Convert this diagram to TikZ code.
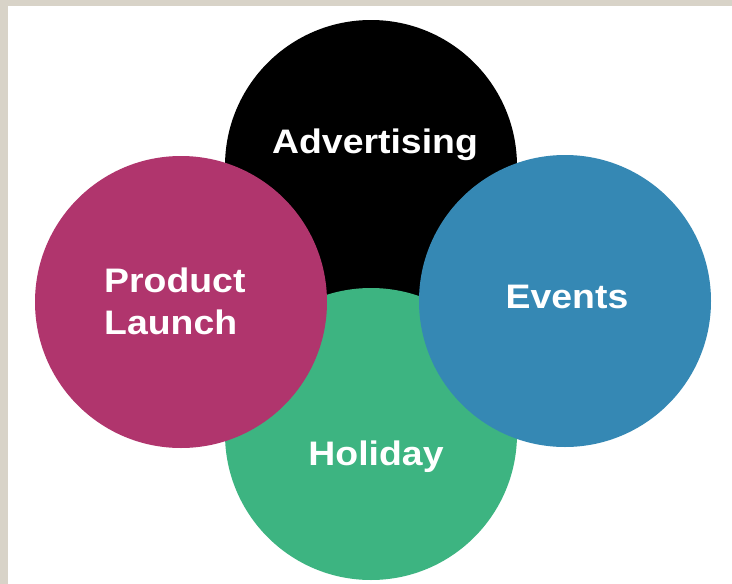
\documentclass[tikz,border=0pt]{standalone}
\usepackage{fontspec}
\newfontfamily\labelfont{Liberation Sans}[FakeStretch=1.1]
\definecolor{advblack}{HTML}{000000}
\definecolor{prodpink}{HTML}{B0356D}
\definecolor{holgreen}{HTML}{3DB481}
\definecolor{evtblue}{HTML}{3588B4}
\definecolor{frame}{HTML}{D8D3C8}
\begin{document}
\begin{tikzpicture}[x=1pt,y=-1pt,
  bubble/.style={circle, inner sep=0pt, minimum size=292pt, draw=none},
  caption/.style={text=white, inner sep=0pt, font=\labelfont\bfseries\fontsize{34}{42}\selectfont}]
  \useasboundingbox (0,0) rectangle (732,584);
  \fill[white] (0,0) rectangle (732,584);
  % beige frame along the left and top edges
  \fill[frame] (0,0) rectangle (8,584);
  \fill[frame] (0,0) rectangle (732,6);
  % the four overlapping circles, back to front
  \node[bubble, fill=advblack] (adv) at (371,166) {};
  \node[bubble, fill=holgreen] (hol) at (371,434) {};
  \node[bubble, fill=prodpink] (prod) at (181,302) {};
  \node[bubble, fill=evtblue] (evt) at (565,301) {};
  % captions
  \node[caption, anchor=base] (advtxt) at (375,153) {Advertising};
  \node[caption, anchor=base] (holtxt) at (376,465) {Holiday};
  \node[caption, anchor=base] (evttxt) at (567,308.5) {Events};
  \node[caption, anchor=north west, align=left] (prodtxt) at (104,267.5) {Product\\Launch};
\end{tikzpicture}
\end{document}
